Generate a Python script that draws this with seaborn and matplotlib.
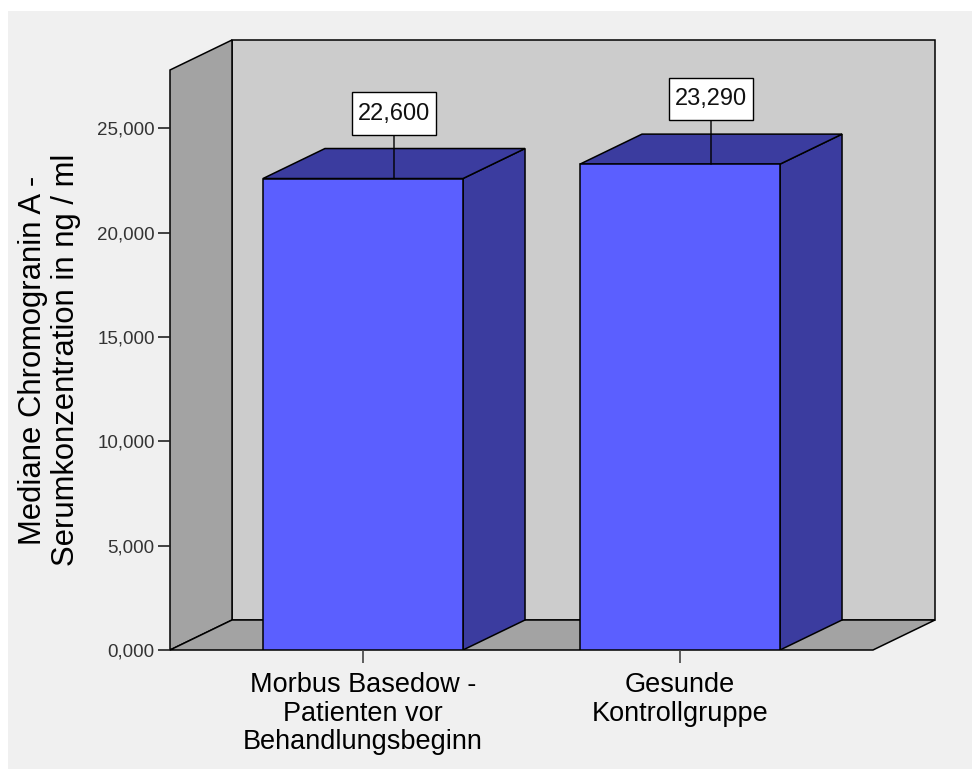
import matplotlib
matplotlib.use("Agg")
import matplotlib.pyplot as plt
from matplotlib.patches import Polygon, Rectangle
import seaborn as sns
import pandas as pd

# ---- data ----
categories = ["Morbus Basedow -\nPatienten vor\nBehandlungsbeginn",
              "Gesunde\nKontrollgruppe"]
values = [22.600, 23.290]
value_labels = ["22,600", "23,290"]
y_ticks = [0, 5, 10, 15, 20, 25]
y_tick_labels = ["0,000", "5,000", "10,000", "15,000", "20,000", "25,000"]
y_label = "Mediane Chromogranin A -\nSerumkonzentration in ng / ml"

plt.rcParams['font.family'] = ['Liberation Sans', 'DejaVu Sans']

W, H = 972, 769
fig = plt.figure(figsize=(W / 100, H / 100), dpi=100)
fig.patch.set_facecolor('white')
fig.add_artist(Rectangle((8 / W, 0), 1, (H - 11) / H, transform=fig.transFigure,
                         facecolor='#f0f0f0', edgecolor='none', zorder=-10))

ax = fig.add_axes([170 / W, (H - 650) / H, (935 - 170) / W, (650 - 40) / H])
ax.set_facecolor('none')

df = pd.DataFrame({"group": categories, "value": values})
front_col = '#5b5fff'
side_col = '#3b3c9f'
sns.barplot(data=df, x="group", y="value", color=front_col, saturation=1,
            width=0.631, edgecolor='black', linewidth=1.1, ax=ax, zorder=2)
bars = list(ax.patches)

# 3D frame geometry (axes-limit based)
x_left, x_right = -0.6088, 1.8044
y_top = 29.24
ax.set_xlim(x_left, x_right)
ax.set_ylim(0, y_top)
dx, dy = 0.1956, 1.438
front_top = y_top - dy

wall_side = '#a3a3a3'
wall_back = '#cccccc'
lw = 1.1
# left wall
ax.add_patch(Polygon([(x_left, 0), (x_left + dx, dy), (x_left + dx, y_top), (x_left, front_top)],
                     closed=True, fc=wall_side, ec='black', lw=lw, zorder=0.5, clip_on=False))
# back wall
ax.add_patch(Polygon([(x_left + dx, dy), (x_right, dy), (x_right, y_top), (x_left + dx, y_top)],
                     closed=True, fc=wall_back, ec='black', lw=lw, zorder=0.4, clip_on=False))
# floor
ax.add_patch(Polygon([(x_left, 0), (x_right - dx, 0), (x_right, dy), (x_left + dx, dy)],
                     closed=True, fc=wall_side, ec='black', lw=lw, zorder=0.6, clip_on=False))

# bar side and top faces from the seaborn bars
for b, lbl in zip(bars, value_labels):
    x0 = b.get_x()
    x1 = x0 + b.get_width()
    h = b.get_height()
    ax.add_patch(Polygon([(x1, 0), (x1 + dx, dy), (x1 + dx, h + dy), (x1, h)],
                         closed=True, fc=side_col, ec='black', lw=lw, zorder=1.5))
    ax.add_patch(Polygon([(x0, h), (x0 + dx, h + dy), (x1 + dx, h + dy), (x1, h)],
                         closed=True, fc=side_col, ec='black', lw=lw, zorder=1.5))
    cx = (x0 + x1) / 2 + dx / 2
    ax.annotate(lbl, xy=(cx, h), xytext=(0, 54), textcoords='offset pixels',
                ha='center', va='bottom', fontsize=17, color='#111111',
                bbox=dict(boxstyle='square,pad=0.24', fc='white', ec='black', lw=1,
                          mutation_aspect=1.8),
                arrowprops=dict(arrowstyle='-', color='black', lw=1, shrinkA=0, shrinkB=0),
                zorder=5)

for s in ax.spines.values():
    s.set_visible(False)

ax.set_yticks(y_ticks)
ax.set_yticklabels(y_tick_labels)
ax.tick_params(axis='y', length=9, width=1.2, color='#222222', labelcolor='#333333',
               labelsize=13.5, pad=2)
ax.tick_params(axis='x', length=9, width=1.2, color='#444444', labelcolor='black',
               labelsize=19.5, pad=7)
for t in ax.get_xticklabels():
    t.set_linespacing(1.12)

ax.set_xlabel("")
ax.set_ylabel(y_label, fontsize=22.3, linespacing=1.13)
ax.yaxis.label.set_va('center')
ax.yaxis.set_label_coords(-0.1575, 0.475)

fig.savefig("out.png", dpi=100)
